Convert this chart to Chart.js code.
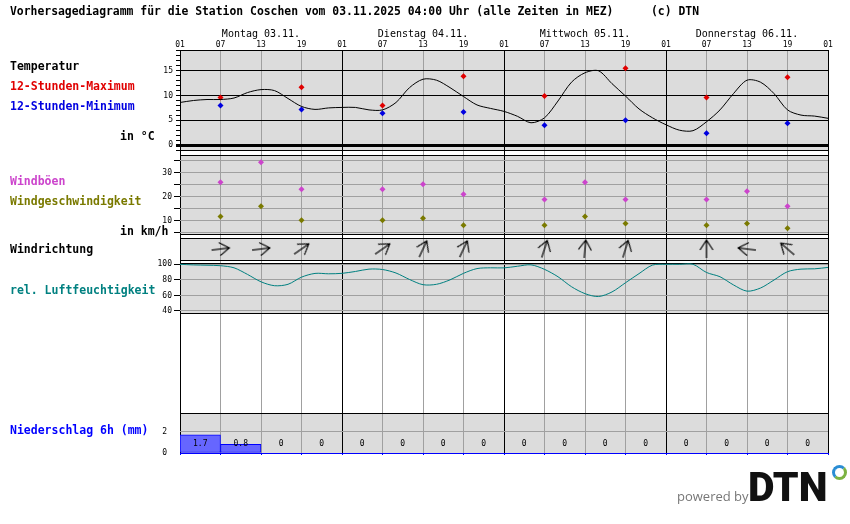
<!DOCTYPE html>
<html>
<head>
<meta charset="utf-8">
<script src="https://cdn.jsdelivr.net/npm/chart.js@4.4.1/dist/chart.umd.min.js"></script>
<style>
body { margin: 0; background: #fff; }
#wrap { position: relative; width: 850px; height: 524px; overflow: hidden; }
canvas { position: absolute; left: 0; }
.lbl { position: absolute; font: bold 11.5px "DejaVu Sans Mono", monospace; line-height: 11.5px; white-space: pre; color: #000; }
.day { position: absolute; top: 28px; width: 162px; text-align: center; font: 10px "DejaVu Sans Mono", monospace; line-height: 12px; }
</style>
</head>
<body>
<div id="wrap">
<canvas id="base" width="850" height="524" style="top:0"></canvas>
<canvas id="temp" width="850" height="116" style="top:42px"></canvas>
<canvas id="wind" width="850" height="95" style="top:147px"></canvas>
<canvas id="dir" width="850" height="38" style="top:230px"></canvas>
<canvas id="hum" width="850" height="66" style="top:255px"></canvas>
<canvas id="rain" width="850" height="76" style="top:395px"></canvas>

<div class="lbl" style="left:10px;top:6px;font-size:11.4px">Vorhersagediagramm für die Station Coschen vom 03.11.2025 04:00 Uhr (alle Zeiten in MEZ)</div>
<div class="lbl" style="left:651px;top:6px;font-size:11.4px">(c) DTN</div>
<div id="days"></div>
<div class="lbl" style="left:10px;top:61px">Temperatur</div>
<div class="lbl" style="left:10px;top:81px;color:#e00000">12-Stunden-Maximum</div>
<div class="lbl" style="left:10px;top:101px;color:#0000e0">12-Stunden-Minimum</div>
<div class="lbl" style="left:120px;top:131px">in °C</div>
<div class="lbl" style="left:10px;top:176px;color:#cc44cc">Windböen</div>
<div class="lbl" style="left:10px;top:196px;color:#7a7a00">Windgeschwindigkeit</div>
<div class="lbl" style="left:120px;top:226px">in km/h</div>
<div class="lbl" style="left:10px;top:244px">Windrichtung</div>
<div class="lbl" style="left:10px;top:285px;color:#008080">rel. Luftfeuchtigkeit</div>
<div class="lbl" style="left:10px;top:425px;color:#0000ff">Niederschlag 6h (mm)</div>

<div style="position:absolute;left:677px;top:490px;font:13px 'Open Sans';line-height:13px;color:#777">powered by</div>
<div style="position:absolute;left:748px;top:467px;font:900 41px Roboto;line-height:41px;color:#111">DTN</div>
<div style="position:absolute;left:832px;top:465px;width:15px;height:15px;box-sizing:border-box;border-radius:50%;border:3.5px solid;border-color:#2a8dd4 #7cb342 #7cb342 #2a8dd4"></div>
</div>

<script>
// hours counted from Monday 01:00
var dayLabels = ['Montag 03.11.', 'Dienstag 04.11.', 'Mittwoch 05.11.', 'Donnerstag 06.11.'];
var hourLabels = ['01', '07', '13', '19'];

var curveHours = [0, 2, 4, 6, 8, 10, 12, 14, 16, 18, 20, 22, 24, 26, 28, 30, 32, 34, 36, 38, 40, 42, 44, 46, 48,
    50, 52, 54, 56, 58, 60, 62, 64, 66, 68, 70, 72, 74, 76, 78, 80, 82, 84, 86, 88, 90, 92, 94, 96];
var temperature = [8.6, 9.0, 9.2, 9.2, 9.5, 10.6, 11.2, 11.0, 9.4, 7.8, 7.2, 7.5, 7.6, 7.6, 7.1, 7.1, 8.6, 11.6,
    13.3, 13.1, 11.6, 9.8, 8.1, 7.4, 6.8, 5.8, 4.5, 5.5, 8.9, 12.7, 14.6, 15.0, 12.4, 9.9, 7.3, 5.5, 4.1, 3.0,
    2.9, 4.7, 7.1, 10.4, 13.1, 12.7, 10.4, 7.1, 6.05, 5.85, 5.4];
var humidity = [100, 99.2, 98.8, 98.2, 95.5, 87, 77.5, 72.5, 74.3, 83.5, 88.3, 87.8, 88.4, 90.8, 93.8, 93.3,
    88.8, 80.5, 73.8, 74.3, 80, 88.4, 94.5, 95.5, 95.4, 97.5, 99.3, 93.5, 84, 71.2, 62.3, 58.6, 64.5, 76.3, 88,
    99, 100, 100, 100, 89.5, 84, 73.5, 65.5, 69.5, 79.8, 90.5, 93.8, 94.2, 96];

var extremeHours = [6, 18, 30, 42, 54, 66, 78, 90];
var maxTemp = [9.6, 11.7, 8.0, 13.9, 9.9, 15.5, 9.6, 13.7];
var minTemp = [8.0, 7.2, 6.4, 6.7, 4.0, 5.0, 2.4, 4.4];

var windHours = [6, 12, 18, 30, 36, 42, 54, 60, 66, 78, 84, 90];
var gusts = [25.9, 34.3, 23.0, 23.0, 25.1, 20.9, 18.8, 25.9, 18.8, 18.8, 22.2, 15.9];
var windSpeed = [11.7, 15.9, 10.1, 10.1, 10.9, 8.0, 8.0, 11.7, 8.8, 8.0, 8.8, 6.8];
var windDir = [83, 83, 55, 55, 25, 25, 18, 5, 17, 0, 277, 311];

var rainHours = [3, 9, 15, 21, 27, 33, 39, 45, 51, 57, 63, 69, 75, 81, 87, 93];
var rain = [1.7, 0.8, 0, 0, 0, 0, 0, 0, 0, 0, 0, 0, 0, 0, 0, 0];

Chart.defaults.font.family = '"DejaVu Sans Mono", monospace';
Chart.defaults.color = '#000';

var GRAY = '#a0a0a0';
var NONE = 'rgba(0,0,0,0)';

function points(xs, ys) {
    return xs.map(function (x, i) { return { x: x, y: ys[i] }; });
}

function dayColor(c) {
    return c.tick.value % 24 === 0 ? '#000' : GRAY;
}

// x axis of the panels: only the vertical grid lines
function timeAxis() {
    return {
        type: 'linear', min: 0, max: 96, offset: false,
        ticks: { stepSize: 6, display: false, autoSkip: false },
        grid: { color: dayColor, drawTicks: false, offset: false },
        border: { display: false },
        afterFit: function (s) { s.height = 0; }
    };
}

function fixTicks(list) {
    return function (s) { s.ticks = list.map(function (v) { return { value: v }; }); };
}

function leftWidth(s) { s.width = 180; }

var panelBg = {
    id: 'panelBg',
    beforeDraw: function (chart) {
        var a = chart.chartArea, ctx = chart.ctx;
        ctx.save();
        ctx.fillStyle = '#dcdcdc';
        ctx.fillRect(a.left, a.top, a.right - a.left, a.bottom - a.top);
        ctx.restore();
    }
};

function opts(scales, pad) {
    pad = pad || 8;
    return {
        responsive: false,
        animation: false,
        events: [],
        layout: { padding: { left: 0, right: 22, top: pad, bottom: pad } },
        plugins: { legend: { display: false }, tooltip: { enabled: false } },
        scales: scales
    };
}

// base: hour axis and the vertical grid over the whole diagram
var base = new Chart(document.getElementById('base'), {
    type: 'scatter',
    data: { datasets: [] },
    options: {
        responsive: false,
        animation: false,
        events: [],
        layout: { padding: { left: 180, right: 22, top: 40, bottom: 71 } },
        plugins: { legend: { display: false }, tooltip: { enabled: false } },
        scales: {
            x: {
                type: 'linear', position: 'top', min: 0, max: 96,
                ticks: {
                    stepSize: 6, autoSkip: false, maxRotation: 0, padding: 0, font: { size: 8 },
                    callback: function (v) { return hourLabels[(v / 6) % 4]; }
                },
                grid: { color: dayColor, drawTicks: false },
                border: { display: false },
                afterFit: function (s) { s.height = 10; }
            },
            y: { display: false, min: 0, max: 1 }
        }
    }
});

// day names centred over each day of the hour axis
var dayBox = document.getElementById('days');
dayLabels.forEach(function (t, i) {
    var d = document.createElement('div');
    d.className = 'day';
    var x0 = base.scales.x.getPixelForValue(i * 24);
    var x1 = base.scales.x.getPixelForValue(i * 24 + 24);
    d.style.left = x0 + 'px';
    d.style.width = (x1 - x0) + 'px';
    d.textContent = t;
    dayBox.appendChild(d);
});

// temperature
var tempTicks = [-1, 0, 1, 2, 3, 4, 5, 6, 7, 8, 9, 10, 11, 12, 13, 14, 15, 16, 17, 18, 19, 19.2];
new Chart(document.getElementById('temp'), {
    type: 'scatter',
    data: {
        datasets: [{
            data: points(curveHours, temperature), showLine: true, tension: 0.3,
            borderColor: '#000', borderWidth: 1, pointRadius: 0
        }, {
            data: points(extremeHours, maxTemp), pointStyle: 'rectRot', pointRadius: 3,
            backgroundColor: '#e00000', borderColor: '#e00000', borderWidth: 0
        }, {
            data: points(extremeHours, minTemp), pointStyle: 'rectRot', pointRadius: 3,
            backgroundColor: '#0000e0', borderColor: '#0000e0', borderWidth: 0
        }]
    },
    plugins: [panelBg],
    options: opts({
        x: timeAxis(),
        y: {
            min: -1, max: 19.2, afterBuildTicks: fixTicks(tempTicks), afterFit: leftWidth,
            ticks: {
                autoSkip: false, padding: 3, font: { size: 8 },
                callback: function (v) { return v >= 0 && v % 5 === 0 ? String(v) : ''; }
            },
            grid: {
                tickLength: 4,
                color: function (c) { var v = c.tick.value; return (v % 5 === 0 || v === -1 || v === 19.2) ? '#000' : NONE; },
                lineWidth: function (c) { return c.tick.value === 0 ? 3 : 1; },
                tickColor: function (c) { return c.tick.value === 19.2 ? NONE : '#000'; }
            },
            border: { display: false }
        }
    })
});

// wind speed and gusts
var windTicks = [4.375, 5, 10, 15, 20, 25, 30, 35, 37.29];
new Chart(document.getElementById('wind'), {
    type: 'scatter',
    data: {
        datasets: [{
            data: points(windHours, gusts), pointStyle: 'rectRot', pointRadius: 3,
            backgroundColor: '#cc44cc', borderWidth: 0
        }, {
            data: points(windHours, windSpeed), pointStyle: 'rectRot', pointRadius: 3,
            backgroundColor: '#7a7a00', borderWidth: 0
        }]
    },
    plugins: [panelBg],
    options: opts({
        x: timeAxis(),
        y: {
            min: 4.375, max: 37.29, afterBuildTicks: fixTicks(windTicks), afterFit: leftWidth,
            ticks: {
                autoSkip: false, padding: 2, font: { size: 8 },
                callback: function (v) { return v % 10 === 0 ? String(v) : ''; }
            },
            grid: {
                tickLength: 6,
                color: function (c) { var v = c.tick.value; return (v === 4.375 || v === 37.29) ? '#000' : GRAY; },
                tickColor: function (c) { var v = c.tick.value; return (v === 4.375 || v === 37.29) ? NONE : '#000'; }
            },
            border: { display: false }
        }
    })
});

// wind direction arrows
var arrow = document.createElement('canvas');
arrow.width = 24;
arrow.height = 24;
var actx = arrow.getContext('2d');
actx.strokeStyle = '#000';
actx.lineWidth = 1.2;
actx.beginPath();
actx.moveTo(12, 21);
actx.lineTo(12, 3);
actx.moveTo(5.5, 13);
actx.lineTo(12, 3);
actx.lineTo(18.5, 13);
actx.stroke();

new Chart(document.getElementById('dir'), {
    type: 'scatter',
    data: {
        datasets: [{
            data: windHours.map(function (x) { return { x: x, y: 0.5 }; }),
            pointStyle: arrow, rotation: windDir, pointRadius: 5
        }]
    },
    plugins: [panelBg],
    options: opts({
        x: timeAxis(),
        y: {
            min: 0, max: 1, afterBuildTicks: fixTicks([0, 1]), afterFit: leftWidth,
            ticks: { display: false },
            grid: { color: '#000', drawTicks: false },
            border: { display: false }
        }
    })
});

// relative humidity
var humTicks = [37.43, 40, 60, 80, 100, 101.67];
new Chart(document.getElementById('hum'), {
    type: 'scatter',
    data: {
        datasets: [{
            data: points(curveHours, humidity), showLine: true, tension: 0.3,
            borderColor: '#008080', borderWidth: 1, pointRadius: 0
        }]
    },
    plugins: [panelBg],
    options: opts({
        x: timeAxis(),
        y: {
            min: 37.43, max: 101.67, afterBuildTicks: fixTicks(humTicks), afterFit: leftWidth,
            ticks: {
                autoSkip: false, padding: 2, font: { size: 8 },
                callback: function (v) { return v % 20 === 0 ? String(v) : ''; }
            },
            grid: {
                tickLength: 6,
                color: function (c) { var v = c.tick.value; return (v === 37.43 || v === 101.67) ? '#000' : GRAY; },
                tickColor: function (c) { var v = c.tick.value; return (v === 37.43 || v === 101.67) ? NONE : '#000'; }
            },
            border: { display: false }
        }
    })
});

// precipitation per 6 hours
var rainText = {
    id: 'rainText',
    afterDatasetsDraw: function (chart) {
        var ctx = chart.ctx;
        var y = chart.scales.y.getPixelForValue(0) - 9;
        ctx.save();
        ctx.font = '8px "DejaVu Sans Mono"';
        ctx.fillStyle = '#000';
        ctx.textAlign = 'center';
        ctx.textBaseline = 'middle';
        chart.getDatasetMeta(0).data.forEach(function (bar, i) {
            ctx.fillText(rain[i] === 0 ? '0' : rain[i].toFixed(1), bar.x, y);
        });
        ctx.restore();
    }
};

var rainX = timeAxis();
rainX.grid.drawTicks = true;
rainX.grid.tickLength = 2;
rainX.grid.tickColor = '#0000ff';

new Chart(document.getElementById('rain'), {
    type: 'bar',
    data: {
        datasets: [{
            data: points(rainHours, rain),
            backgroundColor: '#6666ff', borderColor: '#0000ff', borderWidth: 1, borderSkipped: false,
            barPercentage: 1, categoryPercentage: 1
        }]
    },
    plugins: [panelBg, rainText],
    options: opts({
        x: rainX,
        y: {
            min: 0, max: 3.72, afterBuildTicks: fixTicks([0, 2, 3.72]), afterFit: leftWidth,
            ticks: {
                autoSkip: false, padding: 13, font: { size: 8 },
                callback: function (v) { return v === 3.72 ? '' : String(v); }
            },
            grid: {
                drawTicks: false,
                color: function (c) { var v = c.tick.value; return v === 0 ? '#0000ff' : (v === 2 ? GRAY : '#000'); }
            },
            border: { display: false }
        }
    }, 18)
});
</script>
</body>
</html>
